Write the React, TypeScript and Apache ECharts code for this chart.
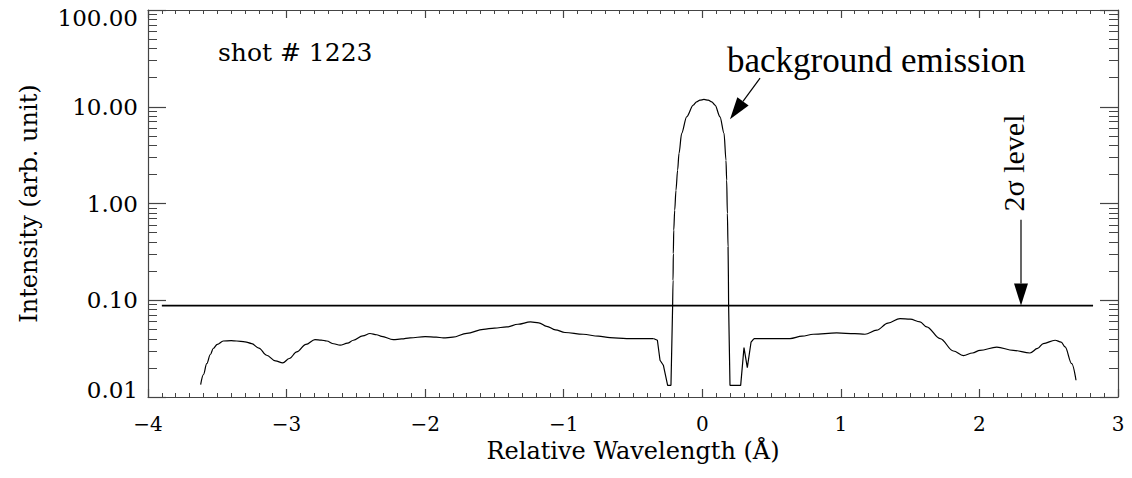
import { useEffect, useRef } from "react";
import * as echarts from "echarts";

// Spectrum, split into pieces so the smooth wings and the sharp notches can be drawn differently
const leftWing: [number, number][] = [
  [-3.62, 0.0134], [-3.6, 0.017], [-3.576, 0.0221], [-3.55, 0.0275], [-3.529, 0.0317],
  [-3.5, 0.035], [-3.457, 0.0379], [-3.4, 0.0382], [-3.36, 0.0379], [-3.3, 0.0372],
  [-3.252, 0.0357], [-3.2, 0.032], [-3.144, 0.027], [-3.08, 0.0236], [-3.028, 0.0225],
  [-2.98, 0.025], [-2.927, 0.0292], [-2.86, 0.035], [-2.795, 0.0392], [-2.75, 0.0388],
  [-2.71, 0.0379], [-2.66, 0.0355], [-2.614, 0.0343], [-2.56, 0.036], [-2.518, 0.0386],
  [-2.45, 0.0428], [-2.398, 0.0453], [-2.35, 0.044], [-2.314, 0.0424], [-2.23, 0.0392],
  [-2.17, 0.0398], [-2.109, 0.0408], [-2.0, 0.0421], [-1.92, 0.0416], [-1.869, 0.0408],
  [-1.8, 0.0415], [-1.7, 0.0455], [-1.58, 0.0501], [-1.5, 0.0515], [-1.411, 0.053],
  [-1.33, 0.0565], [-1.24, 0.0597], [-1.18, 0.0585], [-1.123, 0.0538], [-1.06, 0.0495],
  [-0.991, 0.0464], [-0.86, 0.0445], [-0.75, 0.0425], [-0.666, 0.0411], [-0.546, 0.0402],
  [-0.353, 0.0402],
];
const leftNotch: [number, number][] = [
  [-0.353, 0.0402], [-0.324, 0.0386], [-0.305, 0.024], [-0.281, 0.0213], [-0.25, 0.0132],
  [-0.226, 0.0132], [-0.214, 0.088],
];
const emissionPeak: [number, number][] = [
  [-0.214, 0.088], [-0.211, 0.161], [-0.209, 0.304], [-0.206, 0.53], [-0.199, 0.853],
  [-0.19, 1.37], [-0.178, 2.21], [-0.168, 3.29], [-0.149, 5.3], [-0.113, 7.87],
  [-0.065, 10.4], [-0.041, 11.24], [-0.017, 11.7], [0.012, 11.9], [0.043, 11.7],
  [0.068, 11.24], [0.092, 10.4], [0.128, 7.87], [0.157, 5.3], [0.171, 2.8],
  [0.176, 1.74], [0.181, 0.79], [0.186, 0.356], [0.19, 0.088],
];
const rightNotch: [number, number][] = [
  [0.19, 0.088], [0.2, 0.0132], [0.277, 0.0132], [0.301, 0.0324], [0.325, 0.0201],
  [0.352, 0.037], [0.373, 0.0402],
];
const rightWing: [number, number][] = [
  [0.373, 0.0402], [0.633, 0.0402], [0.72, 0.0425], [0.801, 0.0445], [0.97, 0.0459],
  [1.1, 0.0452], [1.174, 0.0445], [1.259, 0.049], [1.34, 0.058], [1.427, 0.0647],
  [1.5, 0.0637], [1.571, 0.0597], [1.619, 0.053], [1.716, 0.0402], [1.812, 0.0299],
  [1.884, 0.0268], [1.95, 0.0285], [2.004, 0.0304], [2.125, 0.0327], [2.245, 0.0304],
  [2.365, 0.0285], [2.42, 0.0318], [2.461, 0.0357], [2.546, 0.0386], [2.59, 0.037],
  [2.618, 0.0329], [2.666, 0.0221], [2.697, 0.0149],
];

// 2-sigma detection threshold
const sigmaLevel = 0.088;
const sigmaSpan: [number, number] = [-3.9, 2.82];

// Axis ranges
const xRange: [number, number] = [-4, 3];
const yRange: [number, number] = [0.01, 100];

// Annotation arrows in data coordinates
const emissionArrow = { from: [0.417, 19.8], to: [0.2, 7.44] };
const sigmaArrow = { from: [2.3, 0.68], to: [2.3, sigmaLevel] };

const SERIF_FONT = "'DejaVu Serif', serif";
const TIMES_FONT = "'Liberation Serif', 'Times New Roman', serif";
const AXIS_COLOR = "#444";

function fmtX(v: number) {
  return v < 0 ? "\u2212" + Math.abs(v) : String(v);
}

function fmtY(v: number) {
  const s = v.toFixed(2);
  if (Math.abs(v - yRange[1]) < 1e-9) return "{top|" + s + "}";
  if (Math.abs(v - yRange[0]) < 1e-9) return "{bot|" + s + "}";
  return s;
}

function arrow(p0: number[], p1: number[], headLen: number, headHalf: number) {
  const dx = p1[0] - p0[0];
  const dy = p1[1] - p0[1];
  const len = Math.sqrt(dx * dx + dy * dy);
  const ux = dx / len;
  const uy = dy / len;
  const bx = p1[0] - ux * headLen;
  const by = p1[1] - uy * headLen;
  return [
    {
      type: "line",
      shape: { x1: p0[0], y1: p0[1], x2: bx, y2: by },
      style: { stroke: "#000", lineWidth: 1.2 },
      z: 10,
    },
    {
      type: "polygon",
      shape: {
        points: [
          [p1[0], p1[1]],
          [bx - uy * headHalf, by + ux * headHalf],
          [bx + uy * headHalf, by - ux * headHalf],
        ],
      },
      style: { fill: "#000" },
      z: 10,
    },
  ];
}

const lineSeries = (data: [number, number][], smooth: boolean | number) => ({
  type: "line",
  data,
  xAxisIndex: 0,
  yAxisIndex: 0,
  showSymbol: false,
  symbol: "none",
  smooth,
  smoothMonotone: "x",
  lineStyle: { color: "#000", width: 1.2 },
  silent: true,
});

export default function App() {
  const ref = useRef<HTMLDivElement>(null);

  useEffect(() => {
    if (!ref.current) return;
    const chart = echarts.init(ref.current, null, { renderer: "svg" });

    const xAxisBase = {
      type: "value",
      min: xRange[0],
      max: xRange[1],
      interval: 1,
      splitLine: { show: false },
      axisLine: { show: true, onZero: false, lineStyle: { color: AXIS_COLOR, width: 1.2 } },
      axisTick: { show: true, inside: true, length: 8, lineStyle: { color: AXIS_COLOR, width: 1.2 } },
      minorTick: { show: true, splitNumber: 10, length: 4, lineStyle: { color: AXIS_COLOR, width: 1 } },
      minorSplitLine: { show: false },
    };
    const yAxisBase = {
      type: "log",
      logBase: 10,
      min: yRange[0],
      max: yRange[1],
      splitLine: { show: false },
      axisLine: { show: true, onZero: false, lineStyle: { color: AXIS_COLOR, width: 1.2 } },
      axisTick: { show: true, inside: true, length: 18, lineStyle: { color: AXIS_COLOR, width: 1.2 } },
      minorTick: { show: true, splitNumber: 9, length: 9, lineStyle: { color: AXIS_COLOR, width: 1 } },
      minorSplitLine: { show: false },
    };

    chart.setOption({
      animation: false,
      backgroundColor: "#fff",
      grid: { left: 148, right: 14, top: 10, bottom: 81, containLabel: false },
      xAxis: [
        {
          ...xAxisBase,
          position: "bottom",
          name: "Relative Wavelength (\u00c5)",
          nameLocation: "middle",
          nameGap: 42,
          nameMoveOverlap: false,
          nameTextStyle: { fontFamily: SERIF_FONT, fontSize: 24, color: "#000" },
          axisLabel: {
            show: true,
            margin: 17,
            formatter: fmtX,
            fontFamily: SERIF_FONT,
            fontSize: 20,
            color: "#000",
          },
        },
        { ...xAxisBase, position: "top", axisLabel: { show: false } },
      ],
      yAxis: [
        {
          ...yAxisBase,
          position: "left",
          name: "Intensity (arb. unit)",
          nameLocation: "middle",
          nameGap: 107,
          nameMoveOverlap: false,
          nameTextStyle: { fontFamily: SERIF_FONT, fontSize: 24, color: "#000" },
          axisLabel: {
            show: true,
            margin: 10,
            formatter: fmtY,
            fontFamily: SERIF_FONT,
            fontSize: 23,
            color: "#000",
            rich: {
              top: { padding: [16, 0, 0, 0], fontFamily: SERIF_FONT, fontSize: 23, color: "#000" },
              bot: { padding: [0, 0, 14, 0], fontFamily: SERIF_FONT, fontSize: 23, color: "#000" },
            },
          },
        },
        { ...yAxisBase, position: "right", axisLabel: { show: false } },
      ],
      series: [
        lineSeries(leftWing, 0.35),
        lineSeries(leftNotch, false),
        lineSeries(emissionPeak, 0.3),
        lineSeries(rightNotch, false),
        lineSeries(rightWing, 0.35),
        {
          type: "line",
          data: [
            [sigmaSpan[0], sigmaLevel],
            [sigmaSpan[1], sigmaLevel],
          ],
          xAxisIndex: 0,
          yAxisIndex: 0,
          showSymbol: false,
          symbol: "none",
          lineStyle: { color: "#000", width: 1.6 },
          silent: true,
        },
      ],
    });

    const px = (p: number[]) =>
      chart.convertToPixel({ xAxisIndex: 0, yAxisIndex: 0 }, p) as number[];

    chart.setOption({
      graphic: [
        {
          type: "text",
          x: 218,
          y: 52,
          style: {
            text: "shot # 1223",
            fontFamily: SERIF_FONT,
            fontSize: 25,
            fill: "#000",
            align: "left",
            verticalAlign: "middle",
          },
        },
        {
          type: "text",
          x: 727,
          y: 60,
          style: {
            text: "background emission",
            fontFamily: TIMES_FONT,
            fontSize: 35,
            fill: "#000",
            align: "left",
            verticalAlign: "middle",
          },
        },
        {
          type: "text",
          x: 1013,
          y: 163,
          rotation: Math.PI / 2,
          style: {
            text: "2\u03c3 level",
            fontFamily: TIMES_FONT,
            fontSize: 30,
            fill: "#000",
            align: "center",
            verticalAlign: "middle",
          },
        },
        ...arrow(px(emissionArrow.from), px(emissionArrow.to), 22, 7),
        ...arrow(px(sigmaArrow.from), px(sigmaArrow.to), 22, 7),
      ],
    });

    return () => chart.dispose();
  }, []);

  return (
    <div
      ref={ref}
      style={{ position: "fixed", left: 0, top: 0, width: 1132, height: 478, background: "#fff" }}
    />
  );
}
